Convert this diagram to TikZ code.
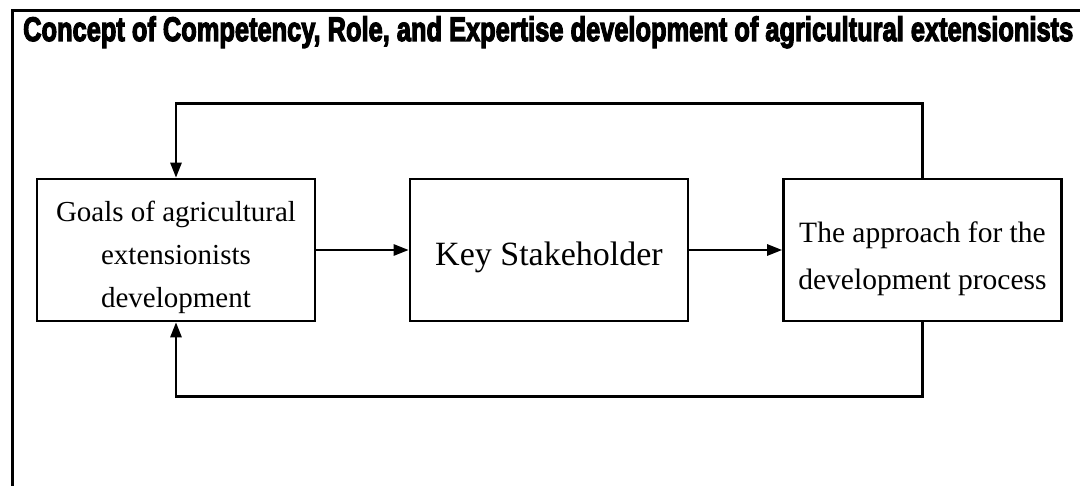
\documentclass[tikz,border=0pt]{standalone}
\usepackage{fontspec}
\setmainfont{Liberation Serif}
\newfontface\titlefont{Liberation Sans Bold}[FakeBold=4]
\usetikzlibrary{arrows.meta}
\newcommand\boxtext[2]{\raisebox{#1}[\height][\depth]{\begin{tabular}{@{}c@{}}#2\end{tabular}}}
\tikzset{
  box/.style={draw, line width=2.6pt, minimum width=278pt, minimum height=142pt, align=center, inner sep=0pt},
  arr/.style={line width=2.6pt, -{Triangle[length=15pt,width=11pt]}},
  frame/.style={line width=3pt}
}
\begin{document}
\begin{tikzpicture}[x=1pt,y=-1pt]
\useasboundingbox (0,0) rectangle (1080,486);
\fill[white] (0,0) rectangle (1080,486);
\draw[frame] (12,486) -- (12,11) -- (1080,11);
\node[anchor=base west, inner sep=0pt] (title) at (23,41)
  {\resizebox{1050pt}{\height}{\titlefont\fontsize{34}{36}\selectfont Concept of Competency, Role, and Expertise development of agricultural extensionists}};
\node[box, font=\fontsize{29}{43}\selectfont] (b1) at (176,250)
  {\boxtext{-6pt}{Goals of agricultural\\extensionists\\development}};
\node[box, font=\fontsize{34}{40}\selectfont] (b2) at (549,250) {\boxtext{-8pt}{Key Stakeholder}};
\node[box, font=\fontsize{29.5}{47}\selectfont] (b3) at (922.5,250)
  {\boxtext{-7pt}{The approach for the\\development process}};
\draw[arr] (b1.east) -- (b2.west);
\draw[arr] (b2.east) -- (b3.west);
\draw[arr] (b3.north) -- ++(0,-74) -| (b1.north);
\draw[arr] (b3.south) -- ++(0,74) -| (b1.south);
\end{tikzpicture}
\end{document}
